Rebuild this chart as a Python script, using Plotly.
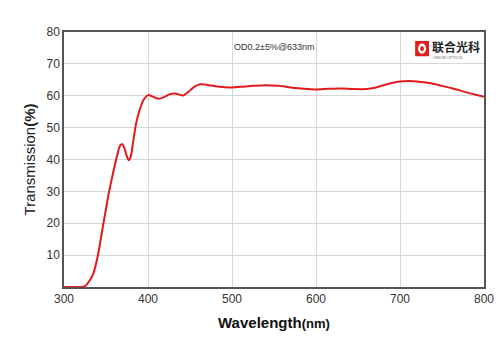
import plotly.graph_objects as go

wavelength = [300, 310, 320, 325, 330, 335, 340, 347, 353, 359, 364, 367, 369.5, 372, 374.5, 377, 379.5, 382, 386, 390, 395, 400, 405, 410, 414, 420, 426, 432, 437, 442, 448, 455, 462, 468, 475, 485, 497, 510, 525, 540, 555, 570, 585, 600, 615, 630, 645, 660, 670, 680, 690, 700, 710, 720, 735, 750, 765, 780, 790, 800]
transmission = [0, 0, 0, 0.3, 1.8, 4.3, 9.5, 20, 29, 36.5, 42, 44.5, 44.8, 43.5, 41.2, 39.8, 41.0, 45, 51.5, 55.5, 58.8, 60.2, 59.8, 59.2, 59.1, 59.7, 60.5, 60.7, 60.4, 60.1, 61.2, 62.8, 63.6, 63.5, 63.2, 62.8, 62.6, 62.8, 63.1, 63.3, 63.1, 62.6, 62.2, 62.0, 62.2, 62.3, 62.1, 62.1, 62.5, 63.3, 64.0, 64.5, 64.6, 64.5, 64.0, 63.1, 62.1, 61.0, 60.3, 59.7]

x_ticks = [300, 400, 500, 600, 700, 800]
y_ticks = [10, 20, 30, 40, 50, 60, 70, 80]

fig = go.Figure()
fig.add_trace(go.Scatter(
    x=wavelength, y=transmission, mode="lines",
    line=dict(color="#e31a1c", width=2, shape="spline", smoothing=0.8),
    hoverinfo="skip", showlegend=False,
))

fig.update_layout(
    width=500, height=353,
    margin=dict(l=64, r=16, t=32, b=66),
    paper_bgcolor="white", plot_bgcolor="white",
    font=dict(family="Arial, Liberation Sans, sans-serif", color="#333"),
    xaxis=dict(
        range=[300, 800], tickvals=x_ticks, ticktext=[str(v) for v in x_ticks],
        showgrid=True, gridcolor="#d6d6d6", gridwidth=1,
        showline=True, linecolor="#555", linewidth=1.5, mirror=True,
        ticks="", tickfont=dict(size=12, color="#333"), zeroline=False,
        automargin=False,
    ),
    yaxis=dict(
        range=[0, 80], tickvals=y_ticks, ticktext=[str(v) for v in y_ticks],
        showgrid=True, gridcolor="#d6d6d6", gridwidth=1,
        showline=True, linecolor="#555", linewidth=1.5, mirror=True,
        ticks="", tickfont=dict(size=12, color="#333"), zeroline=False,
        automargin=False,
    ),
)

# axis titles
fig.add_annotation(
    text="<b>Wavelength<span style='font-size:13px'>(nm)</span></b>", xref="x domain", yref="paper",
    x=0.5, y=-0.14, xanchor="center", yanchor="middle", showarrow=False,
    font=dict(size=15, color="#111"),
)
fig.add_annotation(
    text="Transmission<b>(%)</b>", xref="paper", yref="y domain",
    x=-0.081, y=0.5, xanchor="center", yanchor="middle", showarrow=False, textangle=-90,
    font=dict(size=15, color="#222"),
)

fig.add_annotation(
    text="OD0.2±5%@633nm", xref="paper", yref="paper", x=0.50, y=0.94,
    showarrow=False, font=dict(size=9, color="#333"), xanchor="center", yanchor="middle",
)

# logo
fig.add_shape(type="rect", xref="x domain", yref="y domain", x0=0.836, x1=0.869, y0=0.905, y1=0.965,
              fillcolor="#e02020", line=dict(width=0), layer="above")
fig.add_shape(type="circle", xref="x domain", yref="y domain", x0=0.843, x1=0.862, y0=0.915, y1=0.955,
              fillcolor="white", line=dict(width=0), layer="above")
fig.add_shape(type="circle", xref="x domain", yref="y domain", x0=0.848, x1=0.857, y0=0.925, y1=0.945,
              fillcolor="#e02020", line=dict(width=0), layer="above")
fig.add_annotation(
    text="<b>联合光科</b>", xref="x domain", yref="y domain", x=0.872, y=0.945,
    showarrow=False, font=dict(size=12, color="#222", family="Noto Sans CJK SC"), xanchor="left", yanchor="middle",
)
fig.add_annotation(
    text="UNION OPTICS", xref="x domain", yref="y domain", x=0.874, y=0.9,
    showarrow=False, font=dict(size=4, color="#666"), xanchor="left", yanchor="middle",
)

fig.write_html("out.html")
